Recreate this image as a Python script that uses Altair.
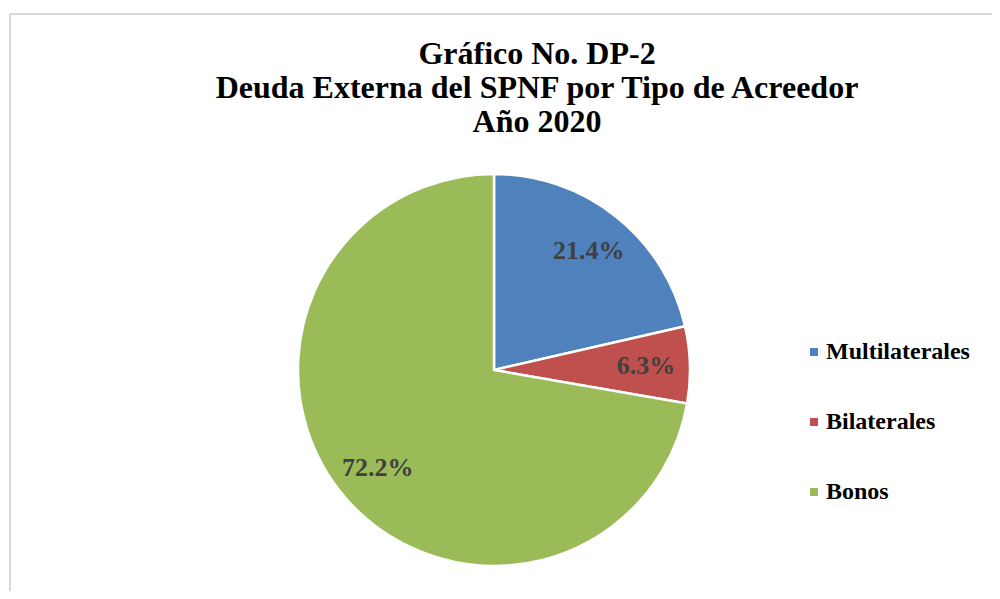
import altair as alt
import pandas as pd

categories = ["Multilaterales", "Bilaterales", "Bonos"]
shares = [21.4, 6.3, 72.2]
colors = ["#4F81BD", "#C0504D", "#9BBB59"]
title_lines = ["Gráfico No. DP-2", "Deuda Externa del SPNF por Tipo de Acreedor", "Año 2020"]

df = pd.DataFrame({
    "cat": categories,
    "share": shares,
    "idx": list(range(len(categories))),
    "label": [f"{v:.1f}%" for v in shares],
})

FONT = "Liberation Serif"

base = alt.Chart(df).encode(
    theta=alt.Theta("share:Q", stack=True),
    order=alt.Order("idx:Q"),
)

pie = base.mark_arc(outerRadius=196, stroke="white", strokeWidth=2.5).encode(
    color=alt.Color(
        "cat:N",
        scale=alt.Scale(domain=categories, range=colors),
        sort=categories,
        legend=alt.Legend(
            title=None,
            orient="none",
            legendX=508,
            legendY=170,
            symbolType="square",
            symbolSize=64,
            symbolStrokeWidth=0,
            labelFont=FONT,
            labelFontSize=24,
            labelFontWeight="bold",
            labelColor="black",
            labelOffset=0,
            rowPadding=46,
            labelLimit=400,
        ),
    )
)

text = base.mark_text(
    radius=152, font=FONT, fontSize=26, fontWeight="bold", color="#404040"
).encode(text="label:N")

frame_df = pd.DataFrame({"k": [0]})
top_rule = alt.Chart(frame_df).mark_rule(color="#D9D9D9", strokeWidth=2).encode(
    x=alt.value(-284), x2=alt.value(720), y=alt.value(-156)
)
left_rule = alt.Chart(frame_df).mark_rule(color="#D9D9D9", strokeWidth=2).encode(
    x=alt.value(-284), y=alt.value(-156), y2=alt.value(440)
)

chart = alt.layer(top_rule, left_rule, pie, text).properties(
    width=400,
    height=400,
    padding={"left": 286, "top": 162, "right": 298, "bottom": 21},
    autosize=alt.AutoSizeParams(type="none"),
    title=alt.TitleParams(
        text=title_lines,
        font=FONT,
        fontSize=32,
        fontWeight="bold",
        color="black",
        lineHeight=34,
        anchor="middle",
        frame="group",
        dx=43,
        offset=-151,
        baseline="alphabetic",
    ),
).configure_view(stroke=None)

chart.save("out.html", embed_options={"renderer": "svg", "actions": False})
